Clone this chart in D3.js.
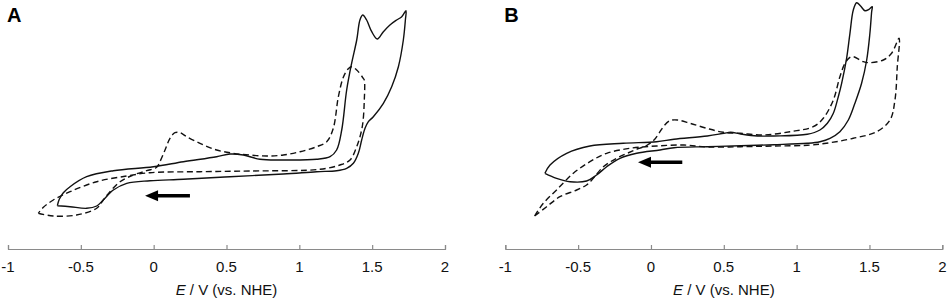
<!DOCTYPE html>
<html>
<head>
<meta charset="utf-8">
<script src="https://cdn.jsdelivr.net/npm/d3@7"></script>
<style>
    body { margin: 0; background: white; }
    svg text { font-family: "Liberation Sans", Arial, sans-serif; }
</style>
</head>
<body>
<div id="svgContainer"></div>
<script>
// potential (V vs NHE) and current (arbitrary units)
const tickValues = [-1, -0.5, 0, 0.5, 1, 1.5, 2]
const tickLabels = ['-1', '-0.5', '0', '0.5', '1', '1.5', '2']
const panelNames = ['A', 'B']

const solidA = [
    [-0.661, -0.57], [-0.648, 0.07], [-0.620, 0.73], [-0.574, 1.33], [-0.460, 2.33], [-0.277, 2.93],
    [-0.002, 3.33], [0.204, 3.83], [0.432, 4.33], [0.524, 4.6], [0.616, 4.5], [0.730, 4.07],
    [0.890, 4.0], [1.119, 4.07], [1.211, 4.33], [1.256, 5.0], [1.291, 7.0], [1.325, 11.0],
    [1.359, 13.67], [1.394, 16.0], [1.416, 18.0], [1.435, 18.5], [1.462, 18.0], [1.497, 16.83],
    [1.535, 16.1], [1.577, 16.83], [1.622, 17.5], [1.668, 18.0], [1.703, 18.33], [1.732, 18.93],
    [1.728, 18.0], [1.714, 16.0], [1.680, 13.33], [1.634, 11.33], [1.577, 9.67], [1.508, 8.33],
    [1.474, 7.83], [1.451, 7.17], [1.428, 6.0], [1.405, 4.67], [1.371, 3.67], [1.325, 3.17],
    [1.256, 2.93], [1.119, 2.83], [0.890, 2.6], [0.524, 2.33], [0.204, 2.07], [-0.025, 1.93],
    [-0.185, 1.67], [-0.277, 1.0], [-0.346, 0], [-0.391, -0.6], [-0.460, -0.83], [-0.574, -0.67],
    [-0.661, -0.57]
]

const dashedA = [
    [-0.792, -1.33], [-0.689, -1.6], [-0.529, -1.5], [-0.391, -0.83], [-0.346, 0], [-0.300, 0.83],
    [-0.231, 1.83], [-0.140, 2.5], [-0.048, 2.93], [0.021, 3.27], [0.043, 3.83], [0.078, 5.0],
    [0.112, 6.17], [0.146, 6.73], [0.181, 6.73], [0.227, 6.33], [0.318, 5.67], [0.432, 5.0],
    [0.547, 4.67], [0.661, 4.5], [0.776, 4.4], [0.890, 4.5], [1.005, 4.83], [1.119, 5.33],
    [1.188, 5.83], [1.233, 7.17], [1.268, 10.33], [1.302, 12.27], [1.336, 13.13], [1.359, 13.33],
    [1.394, 13.0], [1.439, 12.17], [1.446, 12.0], [1.446, 10.0], [1.432, 7.33], [1.394, 5.33],
    [1.348, 4.0], [1.279, 3.5], [1.142, 3.07], [0.661, 2.9], [0.318, 2.83], [-0.025, 2.73],
    [-0.185, 2.4], [-0.391, 1.83], [-0.574, 0.83], [-0.689, 0], [-0.757, -0.73], [-0.792, -1.33]
]

const solidB = [
    [-0.728, 2.67], [-0.693, 3.5], [-0.579, 4.67], [-0.419, 5.4], [-0.190, 5.67], [0.039, 5.83],
    [0.158, 6.07], [0.387, 6.4], [0.501, 6.67], [0.547, 6.77], [0.616, 6.6], [0.730, 6.4],
    [0.844, 6.4], [1.073, 6.57], [1.160, 7.0], [1.211, 7.67], [1.252, 8.67], [1.286, 10.33],
    [1.309, 11.67], [1.343, 14.17], [1.366, 16.67], [1.389, 19.0], [1.412, 19.73], [1.439, 19.4],
    [1.469, 18.93], [1.497, 19.07], [1.519, 19.33], [1.515, 18.83], [1.503, 16.67], [1.481, 14.0],
    [1.446, 11.67], [1.400, 9.67], [1.355, 8.0], [1.297, 6.83], [1.229, 6.17], [1.160, 5.83],
    [1.073, 5.67], [0.844, 5.53], [0.616, 5.43], [0.387, 5.33], [0.158, 5.23], [0.062, 5.0],
    [-0.098, 4.67], [-0.213, 4.17], [-0.304, 3.33], [-0.373, 2.5], [-0.442, 1.9], [-0.556, 1.83],
    [-0.648, 2.17], [-0.728, 2.67]
]

const dashedB = [
    [-0.799, -1.6], [-0.716, -0.67], [-0.625, 0.33], [-0.510, 1.0], [-0.442, 1.5], [-0.396, 2.17],
    [-0.327, 3.33], [-0.236, 4.17], [-0.121, 4.93], [-0.025, 5.5], [0.021, 6.0], [0.055, 6.67],
    [0.089, 7.4], [0.130, 7.93], [0.181, 8.0], [0.268, 7.67], [0.382, 7.17], [0.497, 6.77],
    [0.611, 6.67], [0.771, 6.5], [0.954, 6.83], [1.114, 7.33], [1.183, 8.17], [1.252, 10.0],
    [1.297, 12.33], [1.332, 13.67], [1.366, 14.27], [1.389, 14.33], [1.458, 13.83], [1.503, 13.73],
    [1.595, 14.0], [1.652, 14.67], [1.703, 16.17], [1.691, 13.33], [1.675, 10.0], [1.641, 8.0],
    [1.549, 6.83], [1.389, 6.17], [1.229, 5.73], [1.073, 5.47], [0.844, 5.4], [0.616, 5.33],
    [0.387, 5.3], [0.227, 5.5], [0.039, 5.4], [-0.144, 5.17], [-0.304, 4.67], [-0.419, 3.83],
    [-0.533, 2.67], [-0.648, 1.0], [-0.739, -0.33], [-0.799, -1.6]
]

// scan direction arrows: [tail E, tip E, current]
const arrowA = [0.249, -0.059, 0.43]
const arrowB = [0.215, -0.089, 3.77]

function drawPanel(svg, left, name, solid, dashed, arrow) {
    let width = 437
    let axisY = 249
    let scX = d3.scaleLinear().domain([-1, 2]).range([left, left + width])
    let scY = d3.scaleLinear().domain([-5, 20]).range([250, 0])

    let g = svg.append('g')

    let lineMaker = d3.line()
        .curve(d3.curveCatmullRom.alpha(0.5))
        .x(d => scX(d[0]))
        .y(d => scY(d[1]))

    g.append('path')
        .attr('d', lineMaker(dashed))
        .attr('fill', 'none')
        .attr('stroke', '#111')
        .attr('stroke-width', 1.4)
        .attr('stroke-dasharray', '6,3.5')

    g.append('path')
        .attr('d', lineMaker(solid))
        .attr('fill', 'none')
        .attr('stroke', '#111')
        .attr('stroke-width', 1.4)

    // arrow
    let ax0 = scX(arrow[0]), ax1 = scX(arrow[1]), ay = scY(arrow[2])
    g.append('line')
        .attr('x1', ax0).attr('x2', ax1 + 10)
        .attr('y1', ay).attr('y2', ay)
        .attr('stroke', 'black')
        .attr('stroke-width', 3.5)
    g.append('path')
        .attr('d', `M${ax1},${ay} L${ax1 + 13},${ay - 5.5} L${ax1 + 13},${ay + 5.5} Z`)
        .attr('fill', 'black')

    // x axis
    let axis = d3.axisTop(scX).tickValues(tickValues).tickSize(4).tickFormat('')
    let axG = g.append('g').attr('transform', `translate(0, ${axisY})`).call(axis)
    axG.select('.domain').attr('stroke', '#8a8a8a').attr('stroke-width', 1.2)
    axG.selectAll('.tick line').attr('stroke', '#8a8a8a').attr('stroke-width', 1.2)

    g.selectAll('text.tl').data(tickValues).enter()
        .append('text')
        .attr('class', 'tl')
        .attr('x', d => scX(d))
        .attr('y', 272)
        .attr('text-anchor', 'middle')
        .attr('font-size', 15)
        .attr('fill', '#111')
        .text((d, i) => tickLabels[i])

    let title = g.append('text')
        .attr('x', left + width / 2)
        .attr('y', 295)
        .attr('text-anchor', 'middle')
        .attr('font-size', 15)
        .attr('fill', '#111')
    title.append('tspan').attr('font-style', 'italic').text('E')
    title.append('tspan').text(' / V (vs. NHE)')

    g.append('text')
        .attr('x', left - 1)
        .attr('y', 22)
        .attr('font-size', 20)
        .attr('font-weight', 'bold')
        .text(name)
}

function handleOnLoad() {
    let svg = d3.select('#svgContainer')
        .append('svg')
        .attr('width', 948)
        .attr('height', 302)
        .style('background', 'white')

    drawPanel(svg, 8, panelNames[0], solidA, dashedA, arrowA)
    drawPanel(svg, 505.3, panelNames[1], solidB, dashedB, arrowB)
}

handleOnLoad()
</script>
</body>
</html>
